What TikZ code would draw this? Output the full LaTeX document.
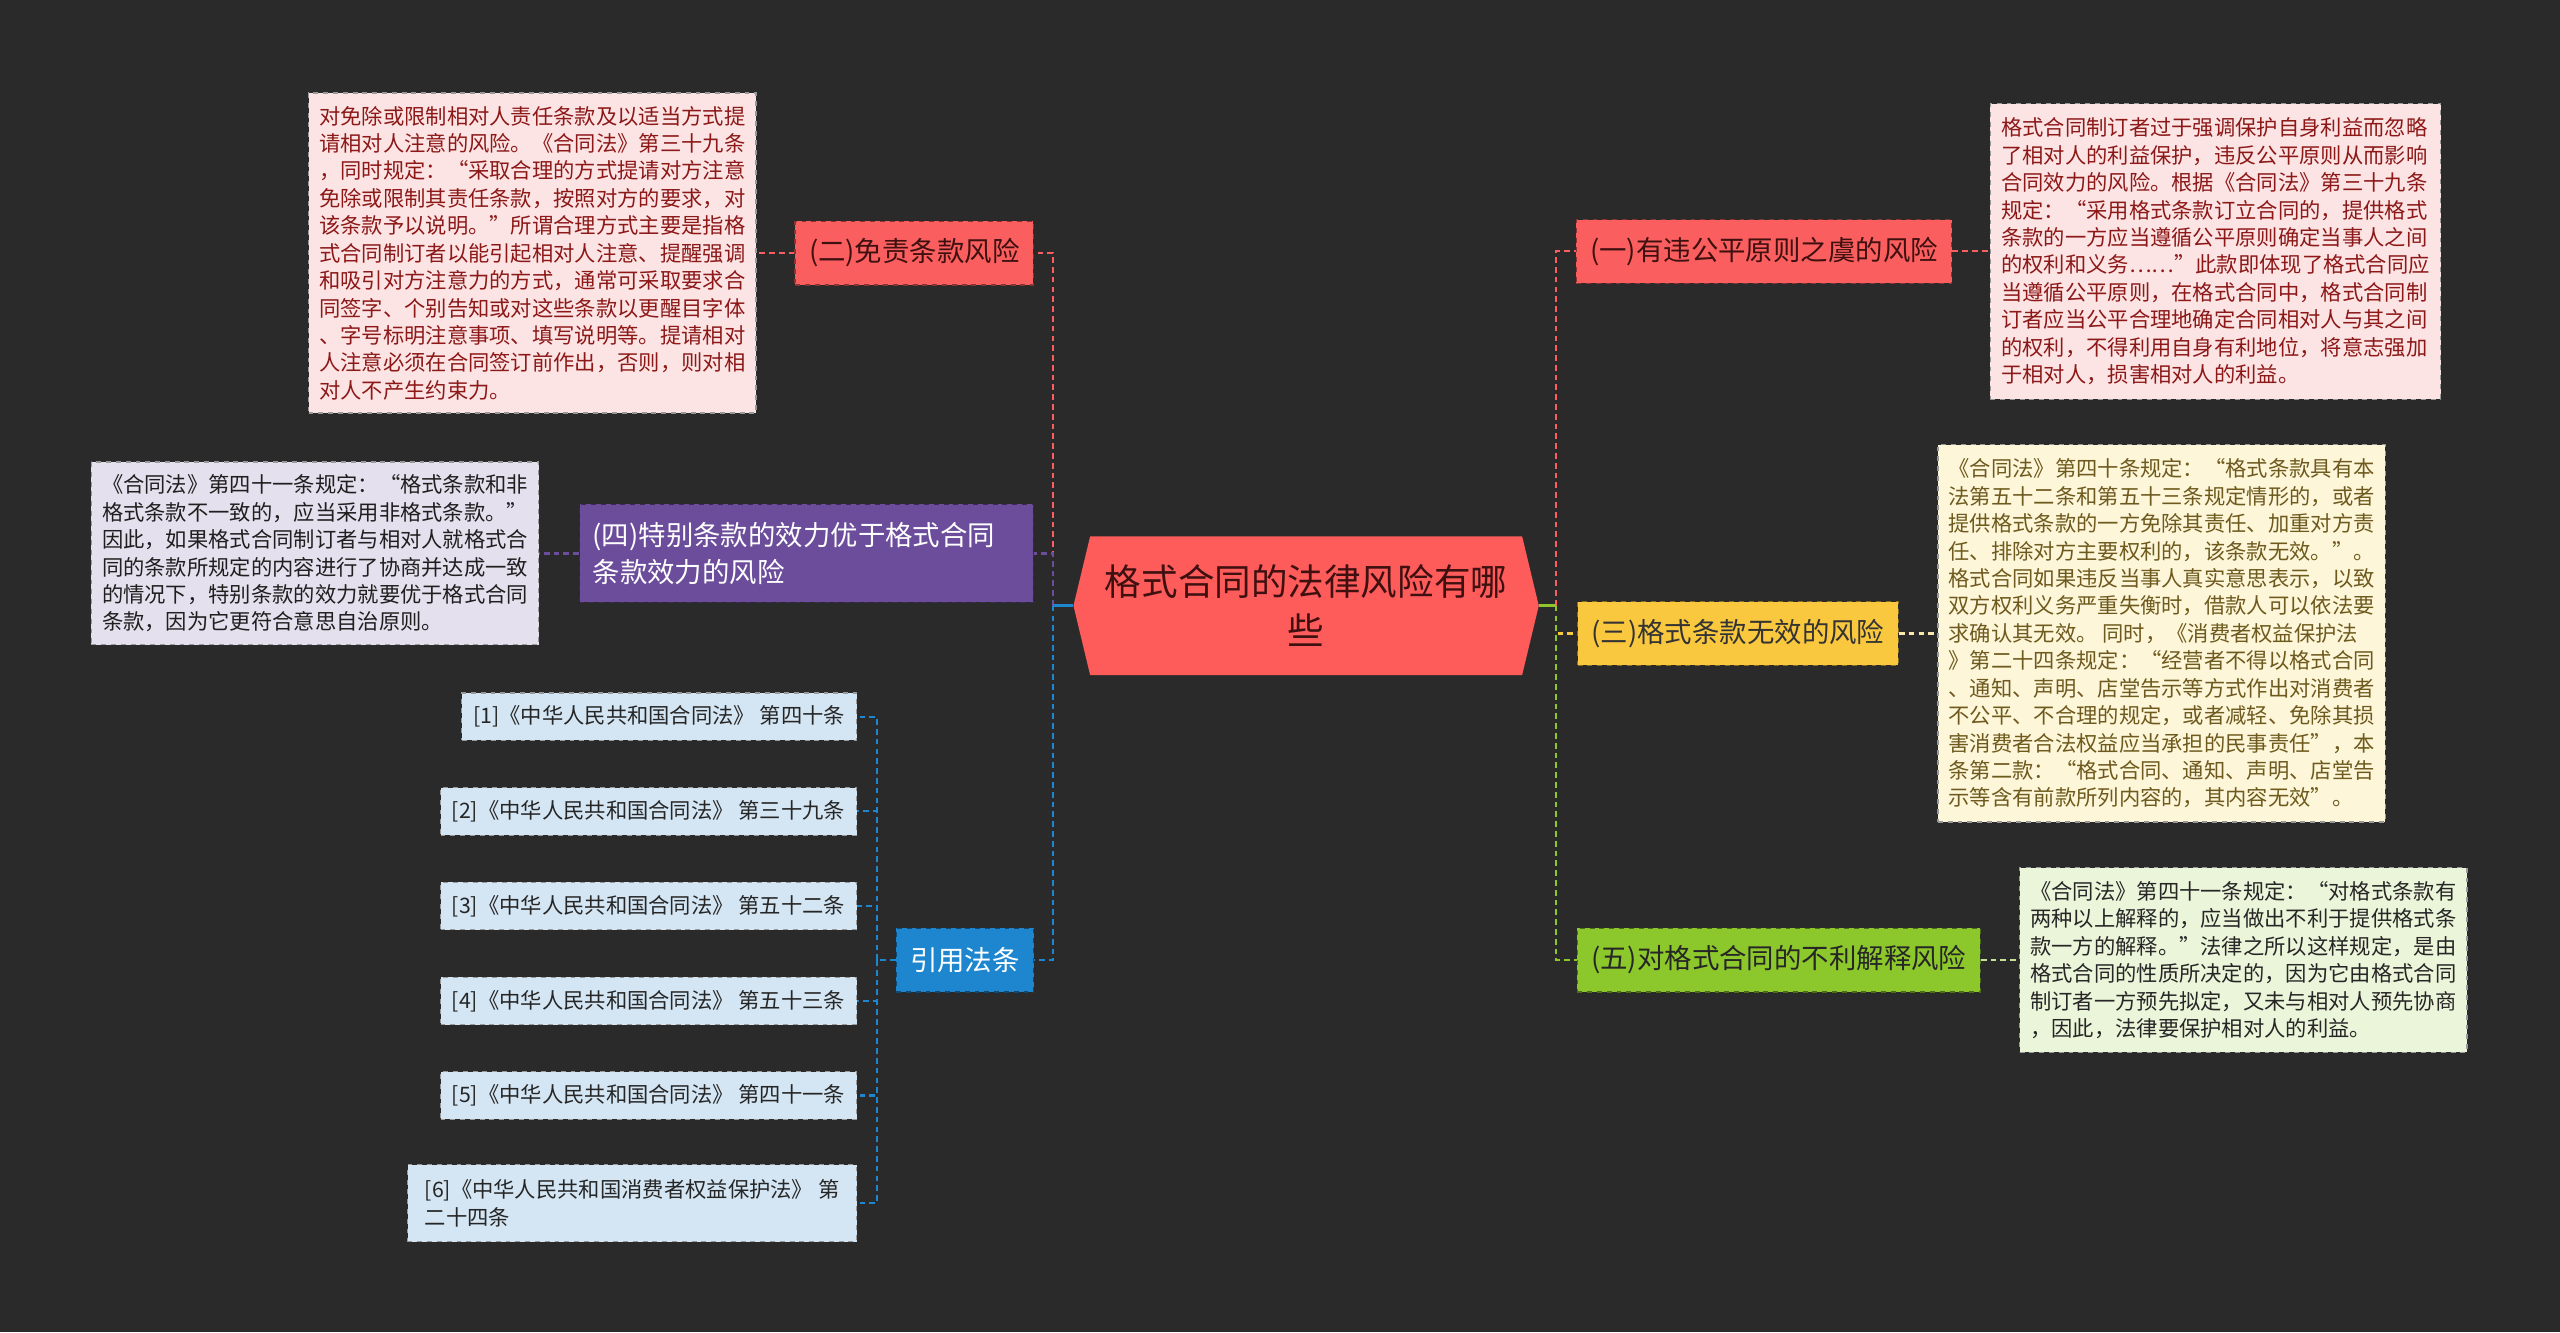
\documentclass[tikz,border=0pt]{standalone}
\usepackage{fontspec}
\setmainfont{Noto Sans CJK SC}
\usepackage{xcolor}
\usepackage{tikz}
\usetikzlibrary{shapes.symbols}
\definecolor{canvas}{RGB}{42,42,42}
\definecolor{rootred}{RGB}{254,91,91}
\definecolor{riskred}{RGB}{250,94,94}
\definecolor{inkred}{RGB}{62,16,16}
\definecolor{notepink}{RGB}{253,228,228}
\definecolor{notered}{RGB}{140,24,24}
\definecolor{riskpurple}{RGB}{107,77,155}
\definecolor{notelilac}{RGB}{229,224,237}
\definecolor{citeblue}{RGB}{29,134,207}
\definecolor{refblue}{RGB}{212,230,244}
\definecolor{riskyellow}{RGB}{250,200,62}
\definecolor{notecream}{RGB}{253,246,216}
\definecolor{noteolive}{RGB}{110,90,30}
\definecolor{riskgreen}{RGB}{140,199,44}
\definecolor{notegreen}{RGB}{235,245,217}

\begin{document}
\begin{tikzpicture}[
    x=1pt, y=-1pt,
    root/.style={shape=signal, signal to=west and east, signal pointer angle=153, fill=rootred, minimum width=285pt, minimum height=85pt, inner sep=0pt, align=center, text=inkred, font=\fontsize{22.4}{30}\selectfont},
    risk/.style={rectangle, draw=#1!55!black, fill=#1, dashed, line width=0.8pt, minimum height=39pt, inner xsep=8.5pt, font=\fontsize{16.8}{22.5}\selectfont},
    note/.style={rectangle, draw=black!40, dashed, line width=0.7pt, inner xsep=6.5pt, align=left, font=\fontsize{13.05}{16.8}\selectfont},
    ref/.style={rectangle, draw=black!40, dashed, line width=0.7pt, fill=refblue, text=black!85, inner xsep=7pt, minimum height=29pt, align=left, anchor=east, font=\fontsize{13.05}{16.8}\selectfont},
    branch/.style={draw=#1, line width=1.3pt, dash pattern=on 3.5pt off 2.5pt},
    stub/.style={draw=#1, line width=2pt}
]

    % Canvas
    \useasboundingbox (0, 0) rectangle (1568, 816);
    \fill [canvas] (0, 0) rectangle (1568, 816);

    % Central topic
    \node (root) [root] at (800, 371) {格式合同的法律风险有哪\\些};

    % Junctions
    \coordinate (lj) at (645, 371);
    \coordinate (rj) at (953, 371);
    \coordinate (cj) at (537, 588);

    % Risk topics
    \node (t1) [risk=riskred, text=inkred] at (1080.5, 154) {(一)有违公平原则之虞的风险};
    \node (t2) [risk=riskred, text=inkred] at (560, 155) {(二)免责条款风险};
    \node (t3) [risk=riskyellow, text=black!80] at (1064.5, 388) {(三)格式条款无效的风险};
    \node (t4) [risk=riskpurple, text=white, text width=262pt, align=left, minimum height=60pt, inner xsep=8pt] at (494, 339) {(四)特别条款的效力优于格式合同\\条款效力的风险};
    \node (t5) [risk=riskgreen, text=black!85] at (1089.5, 588) {(五)对格式合同的不利解释风险};
    \node (cite) [risk=citeblue, text=white] at (591, 588) {引用法条};

    % Notes
    \node (n1) [note, fill=notepink, text=notered, minimum width=276pt, minimum height=181pt] at (1357, 154) {格式合同制订者过于强调保护自身利益而忽略\\
了相对人的利益保护，违反公平原则从而影响\\
合同效力的风险。根据《合同法》第三十九条\\
规定：“采用格式条款订立合同的，提供格式\\
条款的一方应当遵循公平原则确定当事人之间\\
的权利和义务……”此款即体现了格式合同应\\
当遵循公平原则，在格式合同中，格式合同制\\
订者应当公平合理地确定合同相对人与其之间\\
的权利，不得利用自身有利地位，将意志强加\\
于相对人，损害相对人的利益。};
    \node (n2) [note, fill=notepink, text=notered, minimum width=274pt, minimum height=196pt] at (326, 155) {对免除或限制相对人责任条款及以适当方式提\\
请相对人注意的风险。《合同法》第三十九条\\
，同时规定：“采取合理的方式提请对方注意\\
免除或限制其责任条款，按照对方的要求，对\\
该条款予以说明。”所谓合理方式主要是指格\\
式合同制订者以能引起相对人注意、提醒强调\\
和吸引对方注意力的方式，通常可采取要求合\\
同签字、个别告知或对这些条款以更醒目字体\\
、字号标明注意事项、填写说明等。提请相对\\
人注意必须在合同签订前作出，否则，则对相\\
对人不产生约束力。};
    \node (n3) [note, fill=notecream, text=noteolive, minimum width=274pt, minimum height=231pt] at (1324, 388) {《合同法》第四十条规定：“格式条款具有本\\
法第五十二条和第五十三条规定情形的，或者\\
提供格式条款的一方免除其责任、加重对方责\\
任、排除对方主要权利的，该条款无效。”。\\
格式合同如果违反当事人真实意思表示，以致\\
双方权利义务严重失衡时，借款人可以依法要\\
求确认其无效。 同时，《消费者权益保护法\\
》第二十四条规定：“经营者不得以格式合同\\
、通知、声明、店堂告示等方式作出对消费者\\
不公平、不合理的规定，或者减轻、免除其损\\
害消费者合法权益应当承担的民事责任”，本\\
条第二款：“格式合同、通知、声明、店堂告\\
示等含有前款所列内容的，其内容无效”。};
    \node (n4) [note, fill=notelilac, text=black!88, minimum width=274pt, minimum height=112pt] at (193, 339) {《合同法》第四十一条规定：“格式条款和非\\
格式条款不一致的，应当采用非格式条款。”\\
因此，如果格式合同制订者与相对人就格式合\\
同的条款所规定的内容进行了协商并达成一致\\
的情况下，特别条款的效力就要优于格式合同\\
条款，因为它更符合意思自治原则。};
    \node (n5) [note, fill=notegreen, text=black!85, minimum width=274pt, minimum height=113pt] at (1374, 588) {《合同法》第四十一条规定：“对格式条款有\\
两种以上解释的，应当做出不利于提供格式条\\
款一方的解释。”法律之所以这样规定，是由\\
格式合同的性质所决定的，因为它由格式合同\\
制订者一方预先拟定，又未与相对人预先协商\\
，因此，法律要保护相对人的利益。};

    % Cited articles
    \node (r1) [ref] at (525, 439) {[1]《中华人民共和国合同法》 第四十条};
    \node (r2) [ref] at (525, 497) {[2]《中华人民共和国合同法》 第三十九条};
    \node (r3) [ref] at (525, 555) {[3]《中华人民共和国合同法》 第五十二条};
    \node (r4) [ref] at (525, 613) {[4]《中华人民共和国合同法》 第五十三条};
    \node (r5) [ref] at (525, 671) {[5]《中华人民共和国合同法》 第四十一条};
    \node (r6) [ref, minimum height=47pt, minimum width=275pt] at (525, 737) {[6]《中华人民共和国消费者权益保护法》 第\\二十四条};

    % Left branches
    \draw [branch=riskred] (lj) |- (t2.east);
    \draw [branch=riskpurple] (lj) |- (t4.east);
    \draw [branch=citeblue] (lj) |- (cite.east);
    \draw [stub=citeblue] (root.west) -- (lj);

    % Right branches
    \draw [branch=riskred] (rj) |- (t1.west);
    \draw [branch=riskyellow] (rj) |- (t3.west);
    \draw [branch=riskgreen] (rj) |- (t5.west);
    \draw [stub=riskgreen] (root.east) -- (rj);

    % Topic to note links
    \draw [branch=riskred] (t1.east) -- (n1.west);
    \draw [branch=riskred] (t2.west) -- (n2.east);
    \draw [branch=notecream!70!riskyellow] (t3.east) -- (n3.west);
    \draw [branch=riskpurple] (t4.west) -- (n4.east);
    \draw [branch=notegreen!60!riskgreen] (t5.east) -- (n5.west);

    % Cited article links
    \draw [branch=citeblue] (cite.west) -- (cj);
    \draw [branch=citeblue] (cj) |- (r1.east);
    \draw [branch=citeblue] (cj) |- (r2.east);
    \draw [branch=citeblue] (cj) |- (r3.east);
    \draw [branch=citeblue] (cj) |- (r4.east);
    \draw [branch=citeblue] (cj) |- (r5.east);
    \draw [branch=citeblue] (cj) |- (r6.east);

\end{tikzpicture}
\end{document}
